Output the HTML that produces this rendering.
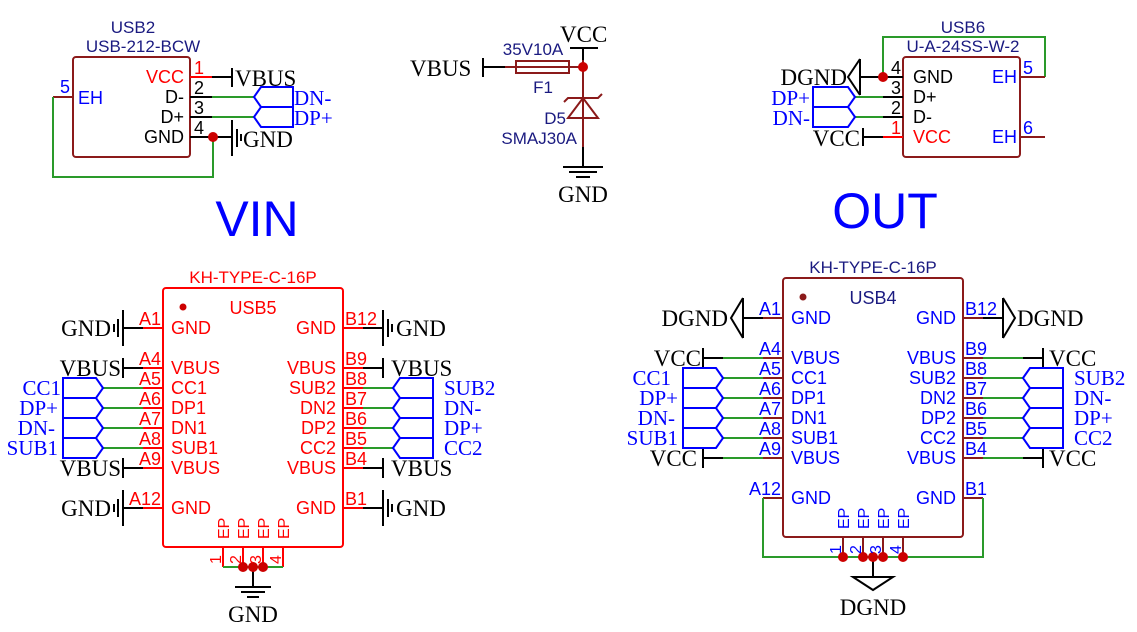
<!DOCTYPE html>
<html><head><meta charset="utf-8"><style>
html,body{margin:0;padding:0;background:#fff}
svg{display:block}
.s{font-family:"Liberation Sans",sans-serif;font-size:18px}
.t{font-family:"Liberation Sans",sans-serif;font-size:17px}
.r{font-family:"Liberation Serif",serif;font-size:23px}
.f{font-family:"Liberation Serif",serif;font-size:21px}
</style></head><body>
<svg width="1137" height="632" viewBox="0 0 1137 632" xmlns="http://www.w3.org/2000/svg">
<rect width="1137" height="632" fill="#fff"/>

<!-- ===== USB2 ===== -->
<text x="133" y="33" class="t" fill="#1a1a80" text-anchor="middle">USB2</text>
<text x="143" y="52" class="t" fill="#1a1a80" text-anchor="middle">USB-212-BCW</text>
<rect x="73" y="57" width="117" height="100" rx="3" fill="none" stroke="#8b1a1a" stroke-width="2"/>
<g fill="none" stroke-width="2">
<path d="M190 77H212" stroke="#f00"/><path d="M212 77H232M232 68V87" stroke="#000"/>
<path d="M190 97H212M190 117H212" stroke="#000"/>
<path d="M212 97H254M212 117H254" stroke="#2a9a2a"/>
<path d="M190 137H232" stroke="#000"/>
<path d="M232 120V156M237 129V147M241 134V141" stroke="#000"/>
<path d="M53 97H73" stroke="#8b1a1a"/>
<path d="M53 97V177H213V137" stroke="#2a9a2a"/>
<path d="M254 97L261 87H293V107H261Z M254 117L261 107H293V127H261Z" stroke="#00f"/>
</g>
<circle cx="213" cy="137" r="5" fill="#c00"/>
<text x="184" y="83" class="s" fill="#f00" text-anchor="end">VCC</text>
<text x="184" y="103" class="s" fill="#000" text-anchor="end">D-</text>
<text x="184" y="123" class="s" fill="#000" text-anchor="end">D+</text>
<text x="184" y="143" class="s" fill="#000" text-anchor="end">GND</text>
<text x="194" y="74" class="s" fill="#f00">1</text>
<text x="194" y="94" class="s" fill="#000">2</text>
<text x="194" y="114" class="s" fill="#000">3</text>
<text x="194" y="134" class="s" fill="#000">4</text>
<text x="60" y="93" class="s" fill="#00f">5</text>
<text x="78" y="104" class="s" fill="#00f">EH</text>
<text x="235" y="86" class="r" fill="#000">VBUS</text>
<text x="243" y="147" class="r" fill="#000">GND</text>
<text x="294" y="105" class="f" fill="#00f">DN-</text>
<text x="294" y="125" class="f" fill="#00f">DP+</text>

<!-- ===== F1 / D5 ===== -->
<text x="410" y="76" class="r" fill="#000">VBUS</text>
<g fill="none" stroke-width="2">
<path d="M483 58V77M483 67H505" stroke="#000"/>
<path d="M505 67H583" stroke="#8b1a1a"/>
<rect x="516" y="61" width="53" height="12" stroke="#8b1a1a"/>
<path d="M570 48H598M583 48V60" stroke="#000"/>
<path d="M583 60V147" stroke="#8b1a1a"/>
<path d="M568 118H598L583 98Z" stroke="#8b1a1a"/>
<path d="M564 102L568 98H598L602 94" stroke="#8b1a1a"/>
<path d="M583 147V167M563 167H603M569 172H597M576 177H590" stroke="#000"/>
</g>
<circle cx="583" cy="67" r="5" fill="#c00"/>
<text x="560" y="42" class="r" fill="#000">VCC</text>
<text x="533" y="55" class="t" fill="#1a1a80" text-anchor="middle">35V10A</text>
<text x="543" y="93" class="t" fill="#1a1a80" text-anchor="middle">F1</text>
<text x="566" y="124" class="t" fill="#1a1a80" text-anchor="end">D5</text>
<text x="577" y="144" class="t" fill="#1a1a80" text-anchor="end">SMAJ30A</text>
<text x="583" y="202" class="r" fill="#000" text-anchor="middle">GND</text>

<!-- ===== USB6 ===== -->
<text x="963" y="33" class="t" fill="#1a1a80" text-anchor="middle">USB6</text>
<text x="963" y="52" class="t" fill="#1a1a80" text-anchor="middle">U-A-24SS-W-2</text>
<rect x="903" y="57" width="117" height="100" rx="3" fill="none" stroke="#8b1a1a" stroke-width="2"/>
<g fill="none" stroke-width="2">
<path d="M860 77H903M883 97H903M883 117H903" stroke="#000"/>
<path d="M855 97H883M855 117H883" stroke="#2a9a2a"/>
<path d="M883 77V37H1045V77" stroke="#2a9a2a"/>
<path d="M1020 77H1045M1020 137H1045" stroke="#8b1a1a"/>
<path d="M860 59V95M860 59L848 77L860 95" stroke="#000"/>
<path d="M863 128V146M863 137H883" stroke="#000"/><path d="M883 137H903" stroke="#f00"/>
<path d="M855 97L848 87H813V107H848Z M855 117L848 107H813V127H848Z" stroke="#00f"/>
</g>
<circle cx="883" cy="77" r="5" fill="#c00"/>
<text x="913" y="83" class="s" fill="#000">GND</text>
<text x="913" y="103" class="s" fill="#000">D+</text>
<text x="913" y="123" class="s" fill="#000">D-</text>
<text x="913" y="143" class="s" fill="#f00">VCC</text>
<text x="1017" y="83" class="s" fill="#00f" text-anchor="end">EH</text>
<text x="1017" y="143" class="s" fill="#00f" text-anchor="end">EH</text>
<text x="1023" y="74" class="s" fill="#00f">5</text>
<text x="1023" y="134" class="s" fill="#00f">6</text>
<text x="891" y="74" class="s" fill="#000">4</text>
<text x="891" y="94" class="s" fill="#000">3</text>
<text x="891" y="114" class="s" fill="#000">2</text>
<text x="891" y="134" class="s" fill="#f00">1</text>
<text x="847" y="85" class="r" fill="#000" text-anchor="end">DGND</text>
<text x="810" y="105" class="f" fill="#00f" text-anchor="end">DP+</text>
<text x="810" y="125" class="f" fill="#00f" text-anchor="end">DN-</text>
<text x="860" y="146" class="r" fill="#000" text-anchor="end">VCC</text>

<!-- titles -->
<text x="257" y="236" font-family="Liberation Sans,sans-serif" font-size="50" fill="#00f" text-anchor="middle">VIN</text>
<text x="885" y="228" font-family="Liberation Sans,sans-serif" font-size="50" fill="#00f" text-anchor="middle">OUT</text>

<!-- ===== USB5 ===== -->
<text x="253" y="283" class="t" fill="#f00" text-anchor="middle">KH-TYPE-C-16P</text>
<rect x="163" y="288" width="180" height="259" rx="3" fill="none" stroke="#f00" stroke-width="2"/>
<circle cx="183" cy="307" r="3.5" fill="#c00"/>
<text x="253" y="314" class="s" fill="#f00" text-anchor="middle">USB5</text>
<g fill="none" stroke-width="2">
<path d="M143 328H163M143 368H163M143 388H163M143 408H163M143 428H163M143 448H163M143 468H163M143 508H163" stroke="#f00"/>
<path d="M343 328H363M343 368H363M343 388H363M343 408H363M343 428H363M343 448H363M343 468H363M343 508H363" stroke="#f00"/>
<path d="M123 328H143M123 310V346M118 319V337M114 324V332" stroke="#000"/>
<path d="M123 508H143M123 490V526M118 499V517M114 504V512" stroke="#000"/>
<path d="M363 328H383M383 310V346M388 319V337M392 324V332" stroke="#000"/>
<path d="M363 508H383M383 490V526M388 499V517M392 504V512" stroke="#000"/>
<path d="M123 368H143M123 358V378M123 468H143M123 458V478" stroke="#000"/>
<path d="M363 368H383M383 358V378M363 468H383M383 458V478" stroke="#000"/>
<path d="M103 388H143M103 408H143M103 428H143M103 448H143" stroke="#2a9a2a"/>
<path d="M363 388H393M363 408H393M363 428H393M363 448H393" stroke="#2a9a2a"/>
<path d="M103 388L96 378H63V398H96Z M103 408L96 398H63V418H96Z M103 428L96 418H63V438H96Z M103 448L96 438H63V458H96Z" stroke="#00f"/>
<path d="M393 388L400 378H433V398H400Z M393 408L400 398H433V418H400Z M393 428L400 418H433V438H400Z M393 448L400 438H433V458H400Z" stroke="#00f"/>
<path d="M223 547V567M243 547V567M263 547V567M283 547V567" stroke="#f00"/>
<path d="M223 567H283" stroke="#2a9a2a"/>
<path d="M253 567V587M235 587H271M241 592H265M247 597H259" stroke="#000"/>
</g>
<circle cx="243" cy="567" r="5" fill="#c00"/><circle cx="253" cy="567" r="5" fill="#c00"/><circle cx="263" cy="567" r="5" fill="#c00"/>
<g class="s" fill="#f00">
<text x="171" y="334">GND</text><text x="171" y="374">VBUS</text><text x="171" y="394">CC1</text><text x="171" y="414">DP1</text>
<text x="171" y="434">DN1</text><text x="171" y="454">SUB1</text><text x="171" y="474">VBUS</text><text x="171" y="514">GND</text>
<g text-anchor="end">
<text x="336" y="334">GND</text><text x="336" y="374">VBUS</text><text x="336" y="394">SUB2</text><text x="336" y="414">DN2</text>
<text x="336" y="434">DP2</text><text x="336" y="454">CC2</text><text x="336" y="474">VBUS</text><text x="336" y="514">GND</text>
<text x="161" y="325">A1</text><text x="161" y="365">A4</text><text x="161" y="385">A5</text><text x="161" y="405">A6</text>
<text x="161" y="425">A7</text><text x="161" y="445">A8</text><text x="161" y="465">A9</text><text x="161" y="505">A12</text>
</g>
<text x="345" y="325">B12</text><text x="345" y="365">B9</text><text x="345" y="385">B8</text><text x="345" y="405">B7</text>
<text x="345" y="425">B6</text><text x="345" y="445">B5</text><text x="345" y="465">B4</text><text x="345" y="505">B1</text>
<g font-size="16">
<text transform="translate(229,539) rotate(-90)">EP</text><text transform="translate(249,539) rotate(-90)">EP</text>
<text transform="translate(269,539) rotate(-90)">EP</text><text transform="translate(289,539) rotate(-90)">EP</text>
<text transform="translate(221,564) rotate(-90)">1</text><text transform="translate(241,564) rotate(-90)">2</text>
<text transform="translate(261,564) rotate(-90)">3</text><text transform="translate(281,564) rotate(-90)">4</text>
</g>
</g>
<g class="r" fill="#000">
<text x="111" y="336" text-anchor="end">GND</text><text x="111" y="516" text-anchor="end">GND</text>
<text x="121" y="376" text-anchor="end">VBUS</text><text x="121" y="476" text-anchor="end">VBUS</text>
<text x="396" y="336">GND</text><text x="396" y="516">GND</text>
<text x="391" y="376">VBUS</text><text x="391" y="476">VBUS</text>
<text x="253" y="622" text-anchor="middle">GND</text>
</g>
<g class="f" fill="#00f">
<text x="61" y="395" text-anchor="end">CC1</text><text x="58" y="415" text-anchor="end">DP+</text>
<text x="55" y="435" text-anchor="end">DN-</text><text x="58" y="455" text-anchor="end">SUB1</text>
<text x="444" y="395">SUB2</text><text x="444" y="415">DN-</text><text x="444" y="435">DP+</text><text x="444" y="455">CC2</text>
</g>

<!-- ===== USB4 ===== -->
<text x="873" y="273" class="t" fill="#1a1a80" text-anchor="middle">KH-TYPE-C-16P</text>
<rect x="783" y="278" width="180" height="259" rx="3" fill="none" stroke="#8b1a1a" stroke-width="2"/>
<circle cx="803" cy="297" r="3.5" fill="#8b1a1a"/>
<text x="873" y="304" class="s" fill="#1a1a80" text-anchor="middle">USB4</text>
<g fill="none" stroke-width="2">
<path d="M763 318H783M763 358H783M763 378H783M763 398H783M763 418H783M763 438H783M763 458H783M763 498H783" stroke="#8b1a1a"/>
<path d="M963 318H983M963 358H983M963 378H983M963 398H983M963 418H983M963 438H983M963 458H983M963 498H983" stroke="#8b1a1a"/>
<path d="M743 318H763M743 298V338M743 298L731 318L743 338" stroke="#000"/>
<path d="M983 318H1003M1003 298V338M1003 298L1015 318L1003 338" stroke="#000"/>
<path d="M703 358H723M703 348V368M703 458H723M703 448V468" stroke="#000"/>
<path d="M1023 358H1043M1043 348V368M1023 458H1043M1043 448V468" stroke="#000"/>
<path d="M723 358H763M723 378H763M723 398H763M723 418H763M723 438H763M723 458H763" stroke="#2a9a2a"/>
<path d="M983 358H1023M983 378H1023M983 398H1023M983 418H1023M983 438H1023M983 458H1023" stroke="#2a9a2a"/>
<path d="M723 378L716 368H683V388H716Z M723 398L716 388H683V408H716Z M723 418L716 408H683V428H716Z M723 438L716 428H683V448H716Z" stroke="#00f"/>
<path d="M1023 378L1030 368H1063V388H1030Z M1023 398L1030 388H1063V408H1030Z M1023 418L1030 408H1063V428H1030Z M1023 438L1030 428H1063V448H1030Z" stroke="#00f"/>
<path d="M843 537V557M863 537V557M883 537V557M903 537V557" stroke="#8b1a1a"/>
<path d="M763 498V557H983V498" stroke="#2a9a2a"/>
<path d="M873 557V577M853 577H893L873 590Z" stroke="#000"/>
</g>
<circle cx="843" cy="557" r="5" fill="#c00"/><circle cx="863" cy="557" r="5" fill="#c00"/><circle cx="873" cy="557" r="5" fill="#c00"/><circle cx="883" cy="557" r="5" fill="#c00"/><circle cx="903" cy="557" r="5" fill="#c00"/>
<g class="s" fill="#00f">
<text x="791" y="324">GND</text><text x="791" y="364">VBUS</text><text x="791" y="384">CC1</text><text x="791" y="404">DP1</text>
<text x="791" y="424">DN1</text><text x="791" y="444">SUB1</text><text x="791" y="464">VBUS</text><text x="791" y="504">GND</text>
<g text-anchor="end">
<text x="956" y="324">GND</text><text x="956" y="364">VBUS</text><text x="956" y="384">SUB2</text><text x="956" y="404">DN2</text>
<text x="956" y="424">DP2</text><text x="956" y="444">CC2</text><text x="956" y="464">VBUS</text><text x="956" y="504">GND</text>
<text x="781" y="315">A1</text><text x="781" y="355">A4</text><text x="781" y="375">A5</text><text x="781" y="395">A6</text>
<text x="781" y="415">A7</text><text x="781" y="435">A8</text><text x="781" y="455">A9</text><text x="781" y="495">A12</text>
</g>
<text x="965" y="315">B12</text><text x="965" y="355">B9</text><text x="965" y="375">B8</text><text x="965" y="395">B7</text>
<text x="965" y="415">B6</text><text x="965" y="435">B5</text><text x="965" y="455">B4</text><text x="965" y="495">B1</text>
<g font-size="16">
<text transform="translate(849,529) rotate(-90)">EP</text><text transform="translate(869,529) rotate(-90)">EP</text>
<text transform="translate(889,529) rotate(-90)">EP</text><text transform="translate(909,529) rotate(-90)">EP</text>
<text transform="translate(841,554) rotate(-90)">1</text><text transform="translate(861,554) rotate(-90)">2</text>
<text transform="translate(881,554) rotate(-90)">3</text><text transform="translate(901,554) rotate(-90)">4</text>
</g>
</g>
<g class="r" fill="#000">
<text x="728" y="326" text-anchor="end">DGND</text><text x="1017" y="326">DGND</text>
<text x="701" y="366" text-anchor="end">VCC</text><text x="697" y="466" text-anchor="end">VCC</text>
<text x="1049" y="366">VCC</text><text x="1049" y="466">VCC</text>
<text x="873" y="615" text-anchor="middle">DGND</text>
</g>
<g class="f" fill="#00f">
<text x="671" y="385" text-anchor="end">CC1</text><text x="678" y="405" text-anchor="end">DP+</text>
<text x="675" y="425" text-anchor="end">DN-</text><text x="678" y="445" text-anchor="end">SUB1</text>
<text x="1074" y="385">SUB2</text><text x="1074" y="405">DN-</text><text x="1074" y="425">DP+</text><text x="1074" y="445">CC2</text>
</g>
</svg>
</body></html>
